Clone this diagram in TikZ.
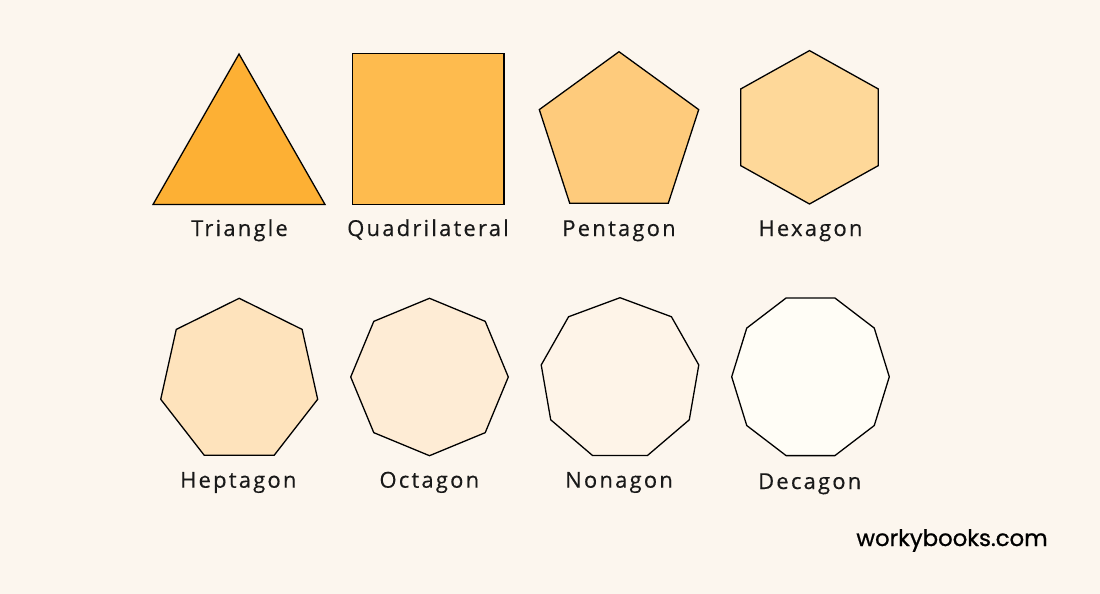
\documentclass[tikz,border=0pt]{standalone}
\usepackage{fontspec}
\setmainfont{Open Sans}
\newfontfamily\labelfont[LetterSpace=10, FakeBold=0.4]{Open Sans}
\newfontfamily\siteFont[FakeBold=0.8]{Poppins}
\usepackage{tikz}

\definecolor{bgcream}{HTML}{FCF6EE}
\definecolor{trifill}{HTML}{FDB034}
\definecolor{quadfill}{HTML}{FEBB4E}
\definecolor{pentfill}{HTML}{FECB7C}
\definecolor{hexfill}{HTML}{FED899}
\definecolor{hepfill}{HTML}{FEE3BC}
\definecolor{octfill}{HTML}{FEECD5}
\definecolor{nonfill}{HTML}{FEF4E8}
\definecolor{decfill}{HTML}{FFFDF6}

\begin{document}
\begin{tikzpicture}[
			x=1pt, y=-1pt,
			shapeline/.style={draw=black, line width=1.3pt, line join=miter},
			shapename/.style={anchor=base, inner sep=0pt, text=black!90,
				font=\labelfont\fontsize{22}{26}\selectfont},
			every node/.style={inner sep=0pt}
			]
			\fill[bgcream] (0,0) rectangle (1100,594);
			\useasboundingbox (0,0) rectangle (1100,594);
			% first row
			\draw[shapeline, fill=trifill] (239,54) -- (325,204.5) -- (153,204.5) -- cycle;
			\draw[shapeline, fill=quadfill] (352.7,53.3) rectangle (504,204.3);
			\draw[shapeline, fill=pentfill, shift={(619,135.5)}] (270:83.8)
				\foreach \k in {1,...,4} { -- ({270+\k*72}:83.8) } -- cycle;
			\draw[shapeline, fill=hexfill, shift={(809.5,127.3)}] (270:79.4 and 76.7)
				\foreach \k in {1,...,5} { -- ({270+\k*60}:79.4 and 76.7) } -- cycle;
			% second row
			\draw[shapeline, fill=hepfill, shift={(239.2,380.9)}] (270:80.5 and 82.6)
				\foreach \k in {1,...,6} { -- ({270+\k*360/7}:80.5 and 82.6) } -- cycle;
			\draw[shapeline, fill=octfill, shift={(429.5,377)}] (270:78.8 and 78.7)
				\foreach \k in {1,...,7} { -- ({270+\k*45}:78.8 and 78.7) } -- cycle;
			\draw[shapeline, fill=nonfill, shift={(620,379.1)}] (270:80 and 81.4)
				\foreach \k in {1,...,8} { -- ({270+\k*40}:80 and 81.4) } -- cycle;
			\draw[shapeline, fill=decfill, shift={(810.5,376.8)}] (0:78.8 and 82.9)
				\foreach \k in {1,...,9} { -- ({\k*36}:78.8 and 82.9) } -- cycle;
			% names
			\node[shapename] (triname) at (239.5,236) {Triangle};
			\node[shapename] (quadname) at (428,236) {Quadrilateral};
			\node[shapename] (pentname) at (619,236) {Pentagon};
			\node[shapename] (hexname) at (810.5,236) {Hexagon};
			\node[shapename] (hepname) at (238.3,487.7) {Heptagon};
			\node[shapename] (octname) at (429.3,487.7) {Octagon};
			\node[shapename] (nonname) at (619,487.7) {Nonagon};
			\node[shapename] (decname) at (809.7,489) {Decagon};
			\node[anchor=base, font=\siteFont\fontsize{22.8}{27}\selectfont] (site) at (952,546) {workybooks.com};
		\end{tikzpicture}
\end{document}
